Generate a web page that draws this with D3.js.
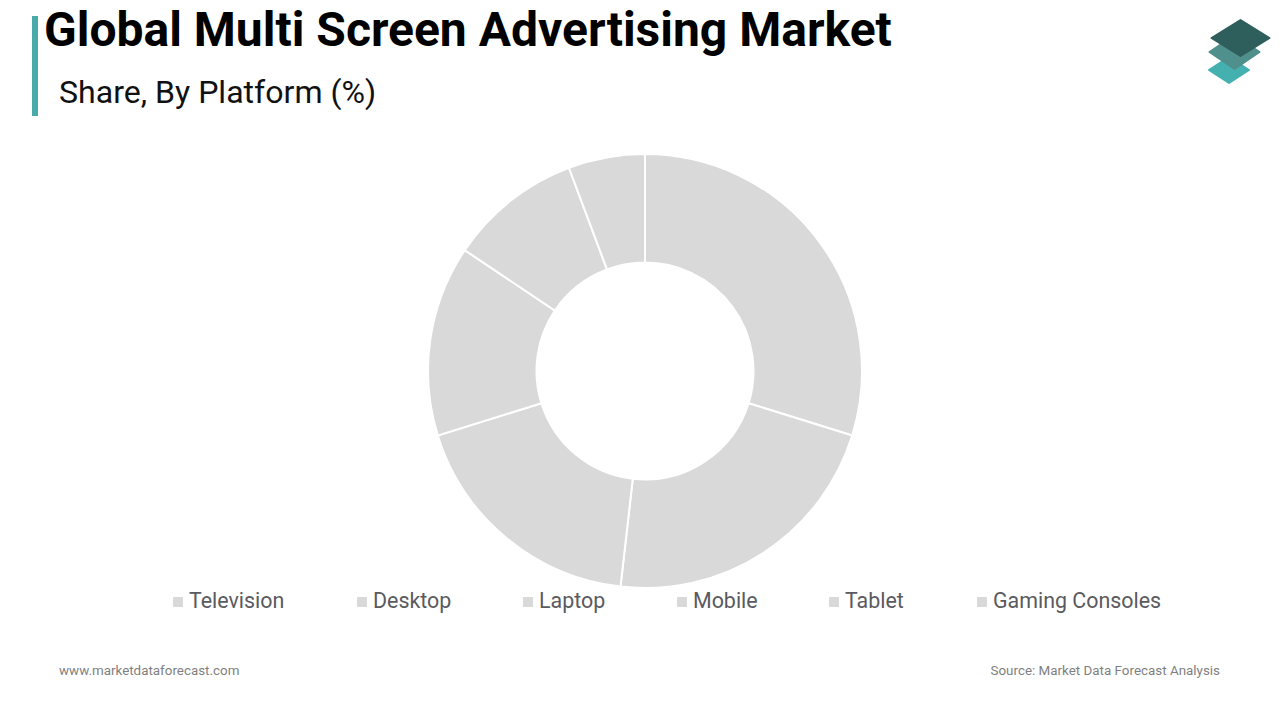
<!DOCTYPE html>
<html>
<head>
<meta charset="utf-8">
<script src="https://d3js.org/d3.v7.min.js"></script>
<style>
  html, body { margin: 0; padding: 0; background: #fff; }
  svg { display: block; font-family: Roboto, sans-serif; }
</style>
</head>
<body>
<svg id="chart" width="1280" height="720"></svg>
<script>
const platforms = ["Television", "Desktop", "Laptop", "Mobile", "Tablet", "Gaming Consoles"];
const shares = [29.8, 22, 18.4, 14.2, 9.9, 5.7];
const legendStarts = [173, 357, 523, 677, 829, 977];

const width = 1280;
const height = 720;
const svg = d3.select("#chart");

// Title block
svg.append("rect").attr("x", 32).attr("y", 16).attr("width", 6).attr("height", 100).attr("fill", "#4aa9a9");

svg.append("text")
    .attr("x", 44)
    .attr("y", 46)
    .style("font-size", "48px")
    .style("font-weight", "700")
    .attr("fill", "#000")
    .text("Global Multi Screen Advertising Market");

svg.append("text")
    .attr("x", 59)
    .attr("y", 103)
    .style("font-size", "32.1px")
    .attr("fill", "#111")
    .text("Share, By Platform (%)");

// Logo, three stacked diamonds
const logo = svg.append("g");
const layers = [
    { cx: 1229, cy: 70, w: 20, h: 13, fill: "#45b0b0" },
    { cx: 1234.5, cy: 52, w: 25, h: 17, fill: "#4f8f8c" },
    { cx: 1240.5, cy: 38, w: 29, h: 18, fill: "#2f5f5c" }
];
layers.forEach(function(d) {
    logo.append("path")
        .attr("d", `M${d.cx - d.w},${d.cy} L${d.cx},${d.cy - d.h} L${d.cx + d.w},${d.cy} L${d.cx},${d.cy + d.h} Z`)
        .attr("fill", d.fill)
        .attr("stroke", d.fill)
        .attr("stroke-width", 2)
        .attr("stroke-linejoin", "round");
});

// Donut
const pie = d3.pie().sort(null).value(function(d) { return d; });
const arc = d3.arc().innerRadius(108.5).outerRadius(217);

svg.append("g")
    .attr("transform", "translate(645,371)")
    .selectAll("path")
    .data(pie(shares))
    .enter()
    .append("path")
    .attr("d", arc)
    .attr("fill", "#d9d9d9")
    .attr("stroke", "#fff")
    .attr("stroke-width", 2);

// Legend
const legend = svg.append("g")
    .selectAll("g")
    .data(platforms)
    .enter()
    .append("g")
    .attr("transform", function(d, i) { return "translate(" + legendStarts[i] + ",596)"; });

legend.append("rect")
    .attr("width", 10)
    .attr("height", 10)
    .attr("y", 1)
    .attr("fill", "#d9d9d9");

legend.append("text")
    .attr("x", 16)
    .attr("y", 12)
    .style("font-size", "21.4px")
    .attr("fill", "#5a5a5f")
    .text(function(d) { return d; });

// Footer
svg.append("text")
    .attr("x", 59)
    .attr("y", 675)
    .style("font-size", "13.4px")
    .attr("fill", "#7f7f7f")
    .text("www.marketdataforecast.com");

svg.append("text")
    .attr("x", 1220)
    .attr("y", 675)
    .attr("text-anchor", "end")
    .style("font-size", "13.4px")
    .attr("fill", "#7f7f7f")
    .text("Source: Market Data Forecast Analysis");
</script>
</body>
</html>
